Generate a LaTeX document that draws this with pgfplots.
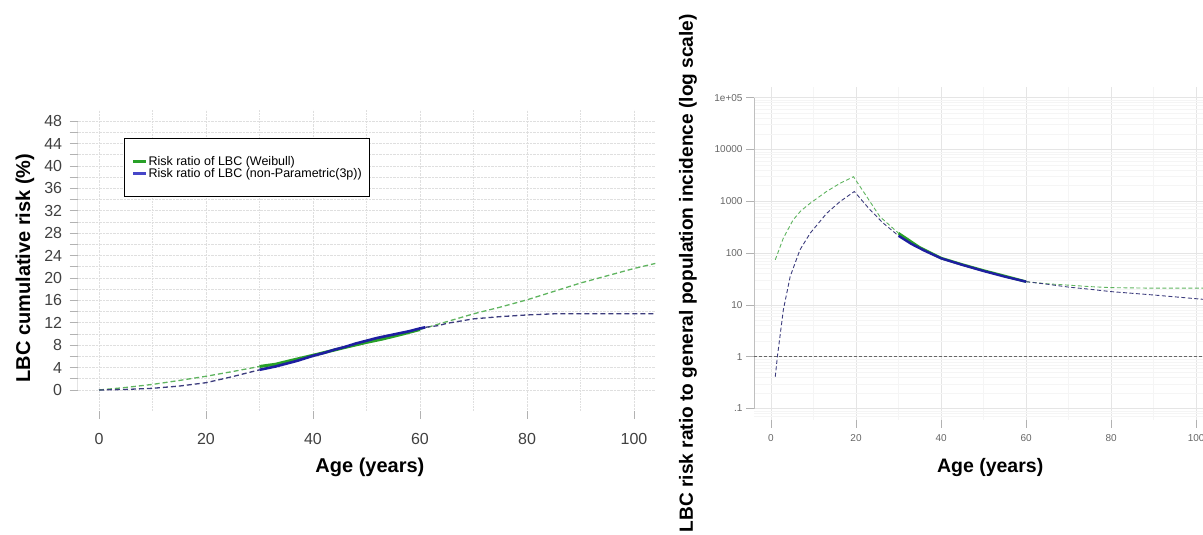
\documentclass[border=0pt]{standalone}
\usepackage{fontspec}
\setmainfont{Liberation Sans}
\usepackage{pgfplots}
\pgfplotsset{compat=1.18}
\definecolor{gdash}{RGB}{95,180,95}
\definecolor{gsolid}{RGB}{40,160,40}
\definecolor{bdash}{RGB}{60,60,125}
\definecolor{bsolid}{RGB}{30,30,160}
\definecolor{leggreen}{RGB}{40,160,40}
\definecolor{legblue}{RGB}{70,70,200}
\begin{document}
\begin{tikzpicture}[x=1pt,y=1pt]
\useasboundingbox (0,0) rectangle (1203,535);
% ---------------- left panel ----------------
\begin{axis}[
  at={(77.6pt,124pt)}, anchor=south west,
  scale only axis, width=577.8pt, height=301pt,
  xmin=-4, xmax=104, ymin=-3.75, ymax=50,
  axis line style={draw=none},
  tick align=outside, xtick pos=bottom, ytick pos=left,
  xtick={0,20,...,100},
  ytick={0,2,...,48},
  yticklabels={0,,4,,8,,12,,16,,20,,24,,28,,32,,36,,40,,44,,48},
  major tick length=8pt,
  every tick/.append style={color=gray!60, line width=0.8pt},
  grid=major,
  major grid style={gray!25, densely dotted, line width=0.6pt},
  /pgf/number format/assume math mode=true,
  ticklabel style={font=\fontsize{16}{16}\selectfont, text=black!75},
  xticklabel style={yshift=-11pt},
  yticklabel style={xshift=-4pt},
  xlabel={\bfseries Age (years)},
  ylabel={\bfseries LBC cumulative risk (\%)},
  xlabel style={at={(rel axis cs:0.506,-0.186)}, anchor=center, font=\fontsize{20}{20}\selectfont},
  ylabel style={at={(rel axis cs:-0.091,0.475)}, anchor=center, font=\fontsize{20}{20}\selectfont},
  legend image code/.code={\draw[#1] (0pt,0pt) -- (13pt,0pt);},
  legend style={at={(rel axis cs:0.0803,0.907)}, anchor=north west,
    draw=black, line width=1.1pt, inner xsep=7pt, inner ysep=17pt,
    font=\fontsize{12.5}{13}\selectfont, nodes={inner sep=1pt}, row sep=-1pt},
  legend cell align=left,
]
\pgfplotsinvokeforeach{10,30,50,70,90}{
  \draw[gray!25, densely dotted, line width=0.6pt] (axis cs:#1,-3.75) -- (axis cs:#1,50);
}
\draw[gray!60, line width=0.9pt] (axis cs:0,-3.75) -- (axis cs:100,-3.75);
\draw[gray!60, line width=0.9pt] (axis cs:-4,0) -- (axis cs:-4,48);
\addlegendimage{line width=3pt, color=leggreen}
\addlegendentry{Risk ratio of LBC (Weibull)}
\addlegendimage{line width=3pt, color=legblue}
\addlegendentry{Risk ratio of LBC (non-Parametric(3p))}
% Weibull
\addplot[gdash, line width=1.3pt, dash pattern=on 5pt off 3pt, forget plot] coordinates {
 (0,0) (5,0.45) (10,1.0) (15,1.7) (20,2.45) (25,3.3) (30,4.2)};
\addplot[gsolid, line width=3pt, forget plot] coordinates {
 (30,4.2) (33,4.6) (36,5.3) (40,6.2) (43,6.9) (46,7.6) (50,8.5) (53,9.1) (56,9.8) (60,10.8)};
\addplot[gdash, line width=1.3pt, dash pattern=on 5pt off 3pt, forget plot] coordinates {
 (60,10.8) (65,12.2) (70,13.6) (75,14.8) (80,16.1) (85,17.6) (90,19.1) (95,20.4) (100,21.7) (104,22.6)};
% non-parametric
\addplot[bdash, line width=1.3pt, dash pattern=on 5pt off 3pt, forget plot] coordinates {
 (0,0) (5,0.1) (10,0.3) (15,0.7) (20,1.3) (25,2.4) (30,3.6)};
\addplot[bsolid, line width=2.6pt, forget plot] coordinates {
 (30,3.6) (31,3.8) (33,4.2) (35,4.7) (37,5.2) (40,6.1) (42,6.6) (44,7.2) (46,7.7) (48,8.3)
 (50,8.8) (52,9.3) (54,9.7) (56,10.1) (58,10.5) (60,11.0) (61,11.2)};
\addplot[bdash, line width=1.3pt, dash pattern=on 5pt off 3pt, forget plot] coordinates {
 (61,11.2) (63.5,11.5) (65,11.9) (70,12.7) (75,13.1) (80,13.4) (85,13.6) (90,13.6) (104,13.6)};
\end{axis}
% ---------------- right panel ----------------
\begin{axis}[
  at={(754pt,115pt)}, anchor=south west,
  scale only axis, width=449pt, height=333pt,
  xmin=-4, xmax=101.6, ymode=log, ymin=0.06, ymax=1.6e5,
  axis line style={draw=none},
  tick align=outside, xtick pos=bottom, ytick pos=left,
  xtick={0,20,...,100}, minor xtick={10,30,...,90},
  ytick={0.1,1,10,100,1000,10000,100000},
  yticklabels={.1,1,10,100,1000,10000,1e+05},
  minor ytick={0.07,0.08,0.09,0.2,0.3,0.4,0.5,0.6,0.7,0.8,0.9,2,3,4,5,6,7,8,9,20,30,40,50,60,70,80,90,200,300,400,500,600,700,800,900,2000,3000,4000,5000,6000,7000,8000,9000,20000,30000,40000,50000,60000,70000,80000,90000},
  major tick length=8pt, minor tick length=0pt,
  every tick/.append style={color=gray!60, line width=0.7pt},
  grid=both,
  major grid style={gray!20, line width=0.6pt},
  minor grid style={gray!8, line width=0.4pt},
  /pgf/number format/assume math mode=true,
  ticklabel style={font=\fontsize{10}{10}\selectfont, text=black!60},
  xticklabel style={yshift=-3pt},
  xlabel={\bfseries Age (years)},
  ylabel={\bfseries LBC risk ratio to general population incidence (log scale)},
  xlabel style={at={(rel axis cs:0.526,-0.144)}, anchor=center, font=\fontsize{19.5}{20}\selectfont},
  ylabel style={at={(rel axis cs:-0.147,0.441)}, anchor=center, font=\fontsize{19.1}{20}\selectfont},
]
\draw[gray!50, line width=0.7pt] (axis cs:0,0.06) -- (axis cs:100,0.06);
\draw[gray!50, line width=0.7pt] (axis cs:-4,0.1) -- (axis cs:-4,100000);
\addplot[black!60, line width=1pt, dash pattern=on 3pt off 2pt] coordinates {(-4,1) (101.6,1)};
% Weibull
\addplot[gdash, line width=0.9pt, dash pattern=on 4pt off 2.5pt] coordinates {
 (1,74) (2.9,194) (5.2,436) (7,650) (9.2,912) (13.1,1550) (16.3,2230) (19.4,2970)
 (22.5,1230) (25.6,505) (30,241)};
\addplot[gsolid, line width=2.6pt] coordinates {
 (30,241) (35,128) (40,80) (45,60) (50,46) (55,36) (60,28)};
\addplot[gdash, line width=0.9pt, dash pattern=on 4pt off 2.5pt] coordinates {
 (60,28) (65,25.5) (70,24) (75,22.5) (80,21.5) (90,21) (101.6,21)};
% non-parametric
\addplot[bdash, line width=0.9pt, dash pattern=on 4pt off 2.5pt] coordinates {
 (1,0.41) (1.5,1) (2.9,8) (4.5,35) (6.8,115) (9.2,241) (13.1,585) (16.2,980) (19.6,1540)
 (23.3,680) (26.4,377) (30,215)};
\addplot[bsolid, line width=2.4pt] coordinates {
 (30,215) (33,150) (36,112) (40,79) (45,59) (50,45) (55,35) (60,28)};
\addplot[bdash, line width=0.9pt, dash pattern=on 4pt off 2.5pt] coordinates {
 (60,28) (65,25) (70,22) (75,20) (80,18) (90,15.5) (101.6,12.8)};
\end{axis}
\end{tikzpicture}
\end{document}
